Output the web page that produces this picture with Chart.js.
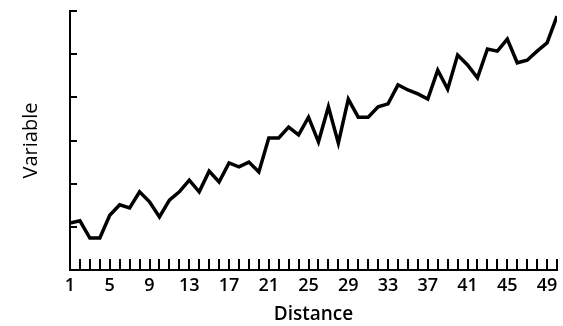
<!DOCTYPE html>
<html>
<head>
<meta charset="utf-8">
<script src="https://cdn.jsdelivr.net/npm/chart.js@4.4.1/dist/chart.umd.min.js"></script>
<style>
  html, body { margin: 0; padding: 0; background: #fff; }
  #wrap { width: 563px; height: 326px; position: relative; }
</style>
</head>
<body>
<div id="wrap"><canvas id="distChart"></canvas></div>
<script>
// distance steps 1..50
const distances = [];
for (let d = 1; d <= 50; d++) distances.push(d);

// values
const variableValues = [
    1.09, 1.14, 0.74, 0.74, 1.27, 1.51, 1.44, 1.81, 1.58, 1.23,
    1.62, 1.81, 2.08, 1.81, 2.29, 2.04, 2.48, 2.39, 2.50, 2.27,
    3.06, 3.06, 3.31, 3.13, 3.54, 2.97, 3.78, 2.94, 3.96, 3.54,
    3.54, 3.78, 3.85, 4.29, 4.17, 4.08, 3.96, 4.63, 4.19, 4.98,
    4.75, 4.45, 5.12, 5.07, 5.35, 4.80, 4.86, 5.07, 5.26, 5.88
];

const xLabelValues = [1, 5, 9, 13, 17, 21, 25, 29, 33, 37, 41, 45, 49];
const yTickValues = [1, 2, 3, 4, 5, 6];

const points = distances.map((d, i) => ({ x: d, y: variableValues[i] }));

// small inward tick marks like the printed figure
const tickMarks = {
    id: 'tickMarks',
    afterDraw(chart) {
        const c = chart.ctx;
        const area = chart.chartArea;
        const x = chart.scales.x;
        const y = chart.scales.y;
        c.save();
        c.fillStyle = '#000';
        for (const d of distances) {
            if (d === 1) continue;
            const px = Math.round(x.getPixelForValue(d));
            c.fillRect(px - 1, area.bottom - 11, 2, 11);
        }
        for (const v of yTickValues) {
            const py = Math.round(y.getPixelForValue(v));
            c.fillRect(area.left, py - 1, 7, 2);
        }
        c.restore();
    }
};

Chart.defaults.font.family = '"Open Sans", sans-serif';
Chart.defaults.color = '#000';

const ctx = document.getElementById('distChart').getContext('2d');
new Chart(ctx, {
    type: 'line',
    data: {
        datasets: [{
            data: points,
            borderColor: '#000',
            borderWidth: 3.5,
            tension: 0,
            pointRadius: 0,
            fill: false
        }]
    },
    options: {
        responsive: true,
        maintainAspectRatio: false,
        animation: false,
        layout: { padding: { top: 11, right: 6, left: 0, bottom: 0 } },
        plugins: {
            legend: { display: false },
            tooltip: { enabled: false }
        },
        scales: {
            x: {
                type: 'linear',
                min: 1,
                max: 50,
                grid: { display: false, drawTicks: false },
                border: { display: true, color: '#000', width: 2 },
                ticks: {
                    stepSize: 1,
                    autoSkip: false,
                    maxRotation: 0,
                    padding: 5,
                    font: { size: 18, weight: '600' },
                    callback: v => xLabelValues.includes(v) ? String(v) : ''
                },
                title: {
                    display: true,
                    text: 'Distance',
                    font: { size: 19, weight: '600' },
                    padding: { top: 0, bottom: 0 }
                },
                afterFit: scale => { scale.height = 56; }
            },
            y: {
                min: 0,
                max: 6,
                grid: { display: false, drawTicks: false },
                border: { display: true, color: '#000', width: 2 },
                ticks: { stepSize: 1, display: false },
                title: {
                    display: true,
                    text: 'Variable',
                    font: { size: 20, weight: '500' },
                    padding: { top: 19, bottom: 0 }
                },
                afterFit: scale => { scale.width = 70; }
            }
        }
    },
    plugins: [tickMarks]
});
</script>
</body>
</html>
